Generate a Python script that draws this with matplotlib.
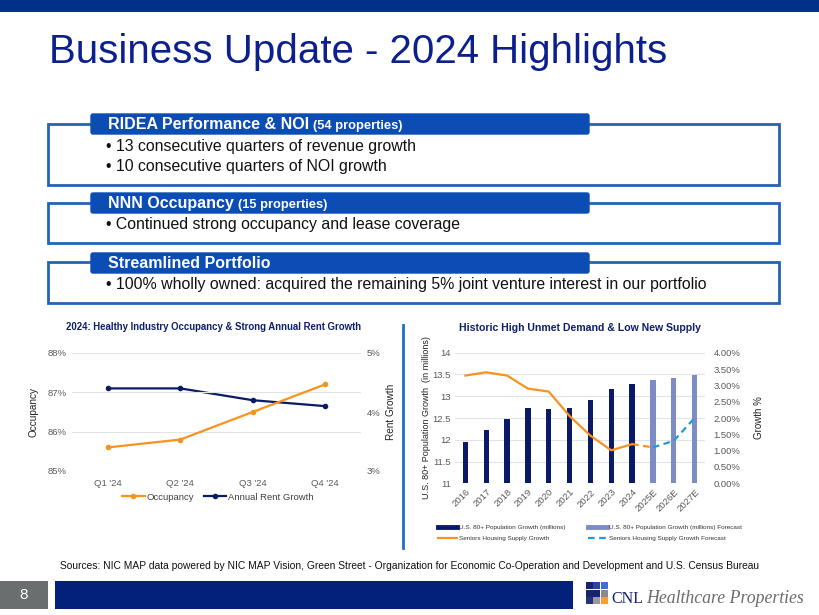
import matplotlib
matplotlib.use('Agg')
import matplotlib.pyplot as plt
from matplotlib.patches import Rectangle, FancyBboxPatch
from matplotlib.lines import Line2D
from matplotlib.ticker import FuncFormatter

plt.rcParams['font.family'] = ['Liberation Sans', 'DejaVu Sans']

# ---- data ----
quarters = ["Q1 '24", "Q2 '24", "Q3 '24", "Q4 '24"]
occupancy = [85.6, 85.8, 86.5, 87.2]          # %
rent_growth = [4.4, 4.4, 4.2, 4.1]            # %

years = ['2016', '2017', '2018', '2019', '2020', '2021', '2022', '2023', '2024',
         '2025E', '2026E', '2027E']
pop_actual = [11.96, 12.23, 12.47, 12.74, 12.70, 12.74, 12.91, 13.16, 13.29]
pop_forecast = [13.37, 13.43, 13.49]
supply_actual = [3.30, 3.40, 3.30, 2.90, 2.81, 2.06, 1.46, 1.01, 1.20]   # %
supply_forecast = [1.10, 1.30, 2.00]                                   # %

boxes = [
    ('RIDEA Performance & NOI', '(54 properties)',
     ['13 consecutive quarters of revenue growth',
      '10 consecutive quarters of NOI growth']),
    ('NNN Occupancy', '(15 properties)',
     ['Continued strong occupancy and lease coverage']),
    ('Streamlined Portfolio', '',
     ['100% wholly owned: acquired the remaining 5% joint venture interest in our portfolio']),
]

# ---- colours ----
NAVY = '#0B1A66'
ORANGE = '#F7931E'
FC_BAR = '#7D8DC4'
FC_LINE = '#1E9BE0'
TAB = '#0B4DB4'
OUTLINE = '#2463B5'
TITLE = '#0B1F8F'
GRID = '#E3E3E3'
TICK = '#595959'

W, H = 820, 615
fig = plt.figure(figsize=(W / 100, H / 100), dpi=100)
bg = fig.add_axes([0, 0, 1, 1])
bg.set_xlim(0, W); bg.set_ylim(H, 0); bg.set_axis_off()

# top band + title
bg.add_patch(Rectangle((0, 0), W, 12, fc='#00308A', ec='none'))
bg.text(49, 63, 'Business Update - 2024 Highlights', fontsize=29, color=TITLE,
        va='baseline', ha='left')

# highlight boxes: (tab top, outline top, outline bottom, bullet ys)
layout = [(113, 124, 185, [147, 166]), (192, 203, 243, [225]), (252, 262, 303, [285])]
for (head, sub, bullets), (tt, ot, ob, bys) in zip(boxes, layout):
    bg.add_patch(Rectangle((48, ot), 731, ob - ot, fc='white', ec=OUTLINE, lw=2))
    bg.add_patch(FancyBboxPatch((91, tt + 1), 498, 20, boxstyle='round,pad=0,rounding_size=2',
                                fc=TAB, ec=TAB, lw=1))
    t = bg.text(108, tt + 16, head, fontsize=11.5, color='white', weight='bold',
                va='baseline', ha='left')
    if sub:
        bg.annotate(sub, xy=(1, 0), xycoords=t, xytext=(3, 0), textcoords='offset points',
                    fontsize=9.3, color='white', weight='bold', va='bottom', ha='left')
    for by, b in zip(bys, bullets):
        bg.text(106, by, '\u2022 ' + b, fontsize=11.4, color='#111111', va='center', ha='left')

# divider between charts
bg.plot([403, 403], [325, 548], color='#1E6FC1', lw=2)

# ---- left chart ----
ax1 = fig.add_axes([72 / W, 1 - 471 / H, 289 / W, 118 / H])
ax2 = ax1.twinx()
x = list(range(len(quarters)))
ax1.plot(x, occupancy, color=ORANGE, lw=1.6, marker='o', ms=3, zorder=3)
ax2.plot(x, rent_growth, color=NAVY, lw=1.6, marker='o', ms=3, zorder=3)
ax1.set_ylim(85, 88); ax1.set_yticks([85, 86, 87, 88])
ax2.set_ylim(3, 5); ax2.set_yticks([3, 4, 5])
ax1.set_xlim(-0.5, 3.5)
ax1.set_xticks(x); ax1.set_xticklabels(quarters)
ax1.yaxis.set_major_formatter(FuncFormatter(lambda v, p: f'{v:.0f}%'))
ax2.yaxis.set_major_formatter(FuncFormatter(lambda v, p: f'{v:.0f}%'))
ax1.grid(axis='y', color=GRID, lw=0.8)
ax1.set_axisbelow(True)
for a in (ax1, ax2):
    for s in a.spines.values():
        s.set_visible(False)
    a.tick_params(length=0, labelsize=6.8, labelcolor=TICK, pad=4)
ax1.tick_params(axis='x', pad=6)
ax1.set_ylabel('Occupancy', fontsize=7.2, color='#222222', labelpad=6)
ax2.set_ylabel('Rent Growth', fontsize=7.2, color='#222222', labelpad=4)
ax1.set_zorder(ax2.get_zorder() + 1); ax1.patch.set_visible(False)
bg.text(214, 327, '2024: Healthy Industry Occupancy & Strong Annual Rent Growth',
        fontsize=6.9, weight='bold', color='#0D1F6B', ha='center', va='center')
lh = [Line2D([], [], color=ORANGE, lw=1.6, marker='o', ms=3),
      Line2D([], [], color=NAVY, lw=1.6, marker='o', ms=3)]
fig.legend(lh, ['Occupancy', 'Annual Rent Growth'], loc='center',
           bbox_to_anchor=(218 / W, 1 - 497 / H), ncol=2, frameon=False,
           fontsize=6.8, handlelength=2.4, columnspacing=1.0, handletextpad=0.2,
           labelcolor='#404040')

# ---- right chart ----
ax3 = fig.add_axes([455 / W, 1 - 483.3 / H, 250 / W, 130.6 / H])
ax4 = ax3.twinx()
n_a = len(pop_actual)
xa = list(range(n_a))
xf = list(range(n_a, n_a + len(pop_forecast)))
ax3.bar(xa, pop_actual, width=0.25, color=NAVY, zorder=2)
ax3.bar(xf, pop_forecast, width=0.25, color=FC_BAR, zorder=2)
ax3.set_ylim(11, 14)
ax3.set_yticks([11, 11.5, 12, 12.5, 13, 13.5, 14])
ax3.yaxis.set_major_formatter(FuncFormatter(lambda v, p: f'{v:g}'))
ax3.set_xlim(-0.5, len(years) - 0.5)
ax3.set_xticks(range(len(years)))
ax3.set_xticklabels(years, rotation=45, ha='right', rotation_mode='anchor')
ax3.grid(axis='y', color=GRID, lw=0.8)
ax3.set_axisbelow(True)
ax4.plot(xa, supply_actual, color=ORANGE, lw=1.6)
ax4.plot([xa[-1], xf[0]], [supply_actual[-1], supply_forecast[0]], color=ORANGE, lw=1.6,
         ls=(0, (3, 2)))
ax4.plot(xf, supply_forecast, color=FC_LINE, lw=1.6, ls=(0, (3, 2)))
ax4.set_ylim(0, 4)
ax4.set_yticks([0, 0.5, 1, 1.5, 2, 2.5, 3, 3.5, 4])
ax4.yaxis.set_major_formatter(FuncFormatter(lambda v, p: f'{v:.2f}%'))
for a in (ax3, ax4):
    for s in a.spines.values():
        s.set_visible(False)
    a.tick_params(length=0, labelsize=6.8, labelcolor=TICK, pad=3)
ax4.tick_params(pad=6)
ax3.tick_params(axis='x', pad=3)
ax3.set_ylabel('U.S. 80+ Population Growth  (in millions)', fontsize=6.5, color='#222222',
               labelpad=1)
ax4.set_ylabel('Growth %', fontsize=7, color='#222222', labelpad=10)
bg.text(580, 328, 'Historic High Unmet Demand & Low New Supply',
        fontsize=7.6, weight='bold', color='#0D1F6B', ha='center', va='center')
rh = [Line2D([], [], color=NAVY, lw=3.5),
      Line2D([], [], color=ORANGE, lw=1.6),
      Line2D([], [], color=FC_BAR, lw=3.5),
      Line2D([], [], color=FC_LINE, lw=1.6, ls=(0, (3, 2)))]
fig.legend(rh, ['U.S. 80+ Population Growth (millions)', 'Seniors Housing Supply Growth',
                'U.S. 80+ Population Growth (millions) Forecast',
                'Seniors Housing Supply Growth Forecast'],
           loc='upper left', bbox_to_anchor=(432 / W, 1 - 519 / H), ncol=2, frameon=False,
           fontsize=4.6, handlelength=3, handletextpad=0.3, columnspacing=3.6,
           labelspacing=0.9, labelcolor='#333333')

# ---- sources & footer ----
bg.text(60, 566, 'Sources: NIC MAP data powered by NIC MAP Vision, Green Street - Organization '
        'for Economic Co-Operation and Development and U.S. Census Bureau',
        fontsize=7.4, color='#111111', ha='left', va='center')
bg.add_patch(Rectangle((0, 581), 48, 28, fc='#6B6E6E', ec='none'))
bg.text(24, 595, '8', fontsize=11, color='white', ha='center', va='center')
bg.add_patch(Rectangle((55, 581), 518, 28, fc='#03207A', ec='none'))

# logo mark
cells = [['#16246A', '#2A44A0', '#3F6FD0'],
         ['#16246A', '#16246A', '#8A8A8A'],
         ['#22347A', '#9A9A9A', '#F7A030']]
for r, row in enumerate(cells):
    for c, col in enumerate(row):
        bg.add_patch(Rectangle((586 + c * 7.5, 582 + r * 7.5), 7, 7, fc=col, ec='none'))
t = bg.text(611, 603, 'CNL', family='Liberation Serif', fontsize=11.5, color='#16246A',
            ha='left', va='baseline')
bg.annotate('Healthcare Properties', xy=(1, 0), xycoords=t, xytext=(2.5, 0),
            textcoords='offset points', family='Liberation Serif', style='italic',
            fontsize=12.8, color='#6B6B6B', ha='left', va='bottom')

fig.savefig('out.png', dpi=100)
